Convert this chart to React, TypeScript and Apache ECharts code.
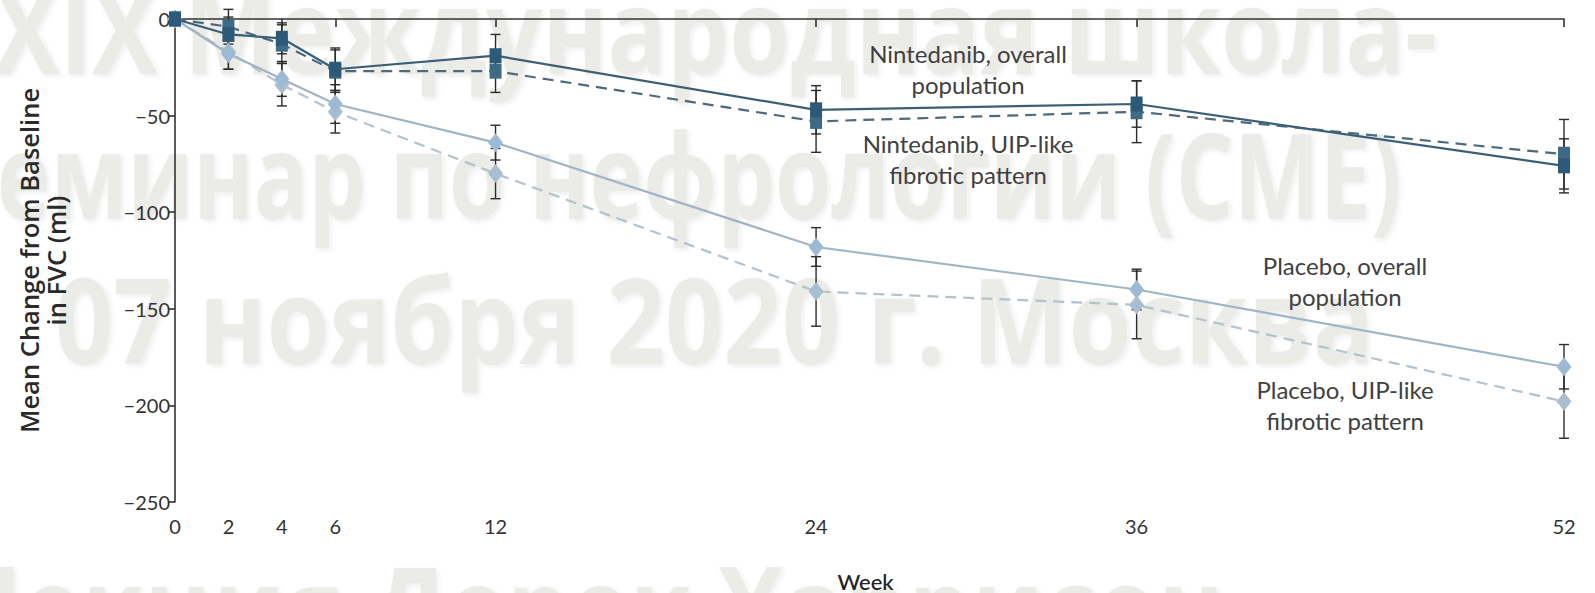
import React, { useEffect, useRef } from "react";
import * as echarts from "echarts";

// Study weeks and the tick positions shown on the time axis
const weeks = [0, 2, 4, 6, 12, 24, 36, 52];
const weekTicks = [0, 2, 4, 6, 12, 24, 36, 52];

// Mean change from baseline in FVC (ml)
const nintedanibOverall = [0, -8, -10, -26, -19, -47, -44, -76];
const nintedanibUip = [0, -4, -13, -27, -27, -53, -48, -70];
const placeboOverall = [0, -18, -31, -44, -64, -118, -140, -180];
const placeboUip = [0, -17, -34, -48, -80, -141, -148, -198];

// Standard errors (ml)
const nintedanibOverallSe = [0, 9, 8, 11, 11, 12.5, 12, 14];
const nintedanibUipSe = [0, 9, 10, 11, 11, 16, 16, 18];
const placeboOverallSe = [0, 8, 9, 10, 9, 10, 10.5, 11.5];
const placeboUipSe = [0, 9, 11, 11, 13, 18, 17.5, 19];

// Background lines of the seminar banner
const bannerLines = [
  "XIX Международная школа-",
  "семинар по нефрологии (СМЕ)",
  "07 ноября 2020 г. Москва",
  "Лекция Дерек Харрисон",
];

const seriesLabels = [
  "Nintedanib, overall\npopulation",
  "Nintedanib, UIP-like\nfibrotic pattern",
  "Placebo, overall\npopulation",
  "Placebo, UIP-like\nfibrotic pattern",
];

const TEXT_FONT = "Lato, 'Open Sans', sans-serif";

const points = (vals: number[]) => weeks.map((w, i) => [w, vals[i]]);
const errorRows = (vals: number[], se: number[]) =>
  weeks
    .map((w, i) => [w, vals[i] - se[i], vals[i] + se[i]])
    .filter((_, i) => se[i] > 0);

const errorSeries = (vals: number[], se: number[]) => ({
  type: "custom",
  data: errorRows(vals, se),
  encode: { x: 0, y: [1, 2] },
  clip: false,
  z: 2,
  silent: true,
  renderItem: (_params: any, api: any) => {
    const x = api.value(0);
    const lo = api.coord([x, api.value(1)]);
    const hi = api.coord([x, api.value(2)]);
    const cap = 5;
    const style = { stroke: "#2b2b2b", lineWidth: 1.4 };
    return {
      type: "group",
      children: [
        { type: "line", shape: { x1: hi[0], y1: hi[1], x2: lo[0], y2: lo[1] }, style },
        { type: "line", shape: { x1: hi[0] - cap, y1: hi[1], x2: hi[0] + cap, y2: hi[1] }, style },
        { type: "line", shape: { x1: lo[0] - cap, y1: lo[1], x2: lo[0] + cap, y2: lo[1] }, style },
      ],
    };
  },
});

const lineSeries = (
  vals: number[],
  color: string,
  markerColor: string,
  dashed: boolean,
  symbol: string,
  size: number[],
  z: number
) => ({
  type: "line",
  data: points(vals),
  symbol,
  symbolSize: size,
  showAllSymbol: true,
  itemStyle: { color: markerColor, borderWidth: 0 },
  lineStyle: { color, width: 2.2, type: dashed ? [11, 7] : "solid" },
  z,
});

export default function App() {
  const ref = useRef<HTMLDivElement>(null);

  useEffect(() => {
    if (!ref.current) return;
    document.documentElement.style.overflow = "hidden";
    document.body.style.margin = "0";
    document.body.style.overflow = "hidden";
    const chart = echarts.init(ref.current, undefined, { renderer: "svg" });

    const bannerFont = 118;
    const bannerPos = [
      { x: -6, y: 28, sx: 0.835 },
      { x: -50, y: 173, sx: 0.772 },
      { x: 55, y: 318, sx: 0.868 },
      { x: -52, y: 606, sx: 0.85 },
    ];

    const banner = bannerLines.map((t, i) => ({
      type: "text",
      x: bannerPos[i].x,
      y: bannerPos[i].y,
      scaleX: bannerPos[i].sx,
      z: -10,
      silent: true,
      style: {
        text: t,
        fontFamily: "'Open Sans', sans-serif",
        fontWeight: "bold",
        fontSize: bannerFont,
        fill: "#ebebe8",
        align: "left",
        verticalAlign: "middle",
        textShadowColor: "rgba(0,0,0,0.07)",
        textShadowBlur: 5,
        textShadowOffsetX: 2,
        textShadowOffsetY: 2,
      },
    }));

    const labelPos = [
      { x: 968, y: 69 },
      { x: 968, y: 159 },
      { x: 1345, y: 281 },
      { x: 1345, y: 405 },
    ];
    const notes = seriesLabels.map((t, i) => ({
      type: "text",
      x: labelPos[i].x,
      y: labelPos[i].y,
      z: 20,
      silent: true,
      style: {
        text: t,
        fontFamily: TEXT_FONT,
        fontSize: 24,
        lineHeight: 31,
        fill: "#404040",
        align: "center",
        verticalAlign: "middle",
      },
    }));

    chart.setOption({
      animation: false,
      backgroundColor: "#ffffff",
      grid: {
        left: 175,
        right: 31,
        top: 19,
        bottom: 91,
        containLabel: false,
        outerBoundsMode: "none",
      },
      graphic: [...banner, ...notes],
      xAxis: {
        type: "value",
        min: 0,
        max: 52,
        name: "Week",
        nameLocation: "middle",
        nameGap: 68,
        nameTextStyle: {
          fontFamily: TEXT_FONT,
          fontSize: 22,
          color: "#222",
          fontWeight: 500,
          padding: [0, 8, 0, 0],
        },
        splitLine: { show: false },
        axisLine: { show: true, lineStyle: { color: "#333", width: 1.6 } },
        axisTick: {
          show: true,
          customValues: weekTicks,
          length: 8,
          lineStyle: { color: "#333", width: 1.6 },
        },
        axisLabel: {
          customValues: weekTicks,
          margin: 14,
          fontFamily: TEXT_FONT,
          fontSize: 20,
          color: "#333",
        },
      },
      yAxis: {
        type: "value",
        min: -250,
        max: 0,
        interval: 50,
        name: "Mean Change from Baseline\nin FVC (ml)",
        nameLocation: "middle",
        nameRotate: 90,
        nameGap: 106,
        nameTextStyle: {
          fontFamily: "'Open Sans', sans-serif",
          fontSize: 25.5,
          fontWeight: 600,
          color: "#2a2a2a",
          lineHeight: 27,
          align: "center",
        },
        splitLine: { show: false },
        axisLine: { show: true, lineStyle: { color: "#333", width: 1.6 } },
        axisTick: { show: true, length: 7, lineStyle: { color: "#333", width: 1.6 } },
        axisLabel: {
          margin: 5,
          fontFamily: TEXT_FONT,
          fontSize: 20,
          color: "#333",
          formatter: (v: number) => String(v).replace("-", "\u2212"),
        },
      },
      series: [
        errorSeries(placeboUip, placeboUipSe),
        errorSeries(placeboOverall, placeboOverallSe),
        errorSeries(nintedanibUip, nintedanibUipSe),
        errorSeries(nintedanibOverall, nintedanibOverallSe),
        lineSeries(placeboUip, "#b3c2cd", "#a9bed0", true, "diamond", [15, 19], 4),
        lineSeries(placeboOverall, "#9fb5c6", "#9dbad4", false, "diamond", [15, 19], 5),
        lineSeries(nintedanibUip, "#4d6a7d", "#3e6a86", true, "rect", [12, 15], 6),
        lineSeries(nintedanibOverall, "#3b5f75", "#2c5a78", false, "rect", [12, 15], 7),
      ],
    });

    return () => chart.dispose();
  }, []);

  return (
    <div
      ref={ref}
      style={{
        position: "fixed",
        left: 0,
        top: 0,
        width: 1595,
        height: 593,
        overflow: "hidden",
        background: "#fff",
      }}
    />
  );
}
